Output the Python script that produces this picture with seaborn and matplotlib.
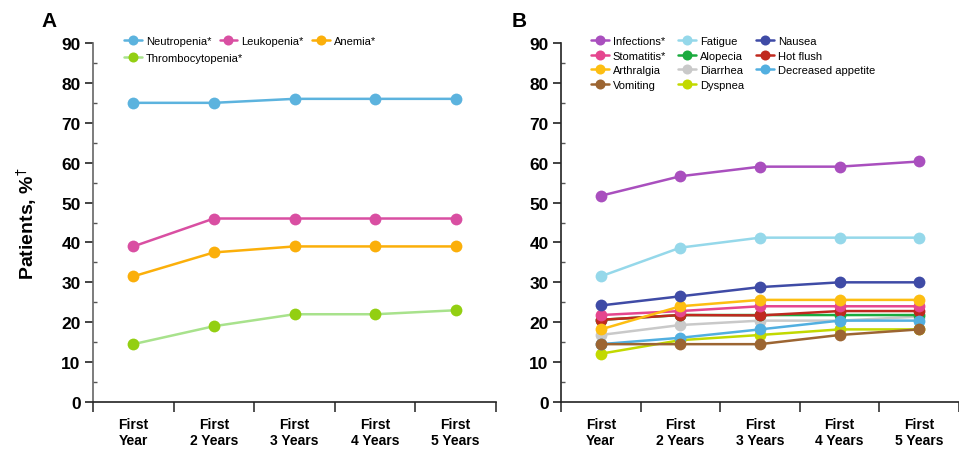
import numpy as np
import pandas as pd
import matplotlib.pyplot as plt
import seaborn as sns

# x categories
periods = ['First\nYear', 'First\n2 Years', 'First\n3 Years', 'First\n4 Years', 'First\n5 Years']
steps = np.arange(len(periods))
yticks = [0, 10, 20, 30, 40, 50, 60, 70, 80, 90]

# panel A - haematological AEs (%)
neutropenia = [75, 75, 76, 76, 76]
leukopenia = [39, 46, 46, 46, 46]
anemia = [31.5, 37.5, 39, 39, 39]
thrombocytopenia = [14.5, 19, 22, 22, 23]

# panel B - non-haematological AEs (%)
infections = [51.7, 56.6, 59, 59, 60.3]
fatigue = [31.5, 38.7, 41.2, 41.2, 41.2]
nausea = [24.2, 26.5, 28.8, 30, 30]
stomatitis = [21.8, 22.8, 24, 24, 24]
alopecia = [20.6, 21.8, 21.8, 21.8, 21.8]
hot_flush = [20.6, 21.8, 21.7, 22.8, 22.8]
arthralgia = [18.2, 24, 25.6, 25.6, 25.6]
diarrhea = [16.8, 19.3, 20.4, 20.4, 21.4]
decreased_appetite = [14.5, 16.1, 18.2, 20.4, 20.4]
vomiting = [14.5, 14.5, 14.5, 16.8, 18.2]
dyspnea = [12.1, 15.5, 16.8, 18.2, 18.2]

panel_a = {
    'Neutropenia*': neutropenia,
    'Leukopenia*': leukopenia,
    'Anemia*': anemia,
    'Thrombocytopenia*': thrombocytopenia,
}
# drawing order (back to front)
panel_b = {
    'Diarrhea': diarrhea,
    'Alopecia': alopecia,
    'Hot flush': hot_flush,
    'Dyspnea': dyspnea,
    'Decreased appetite': decreased_appetite,
    'Vomiting': vomiting,
    'Stomatitis*': stomatitis,
    'Arthralgia': arthralgia,
    'Nausea': nausea,
    'Fatigue': fatigue,
    'Infections*': infections,
}

# (line colour, marker colour)
colors_a = {
    'Neutropenia*': ('#5cb3de', '#5cb3de'),
    'Leukopenia*': ('#d94fa2', '#d94fa2'),
    'Anemia*': ('#fbaf0a', '#fbaf0a'),
    'Thrombocytopenia*': ('#a8e28c', '#93cf12'),
}
colors_b = {
    'Infections*': '#a94fbe',
    'Fatigue': '#95d8ea',
    'Nausea': '#3f4ba6',
    'Stomatitis*': '#e5468f',
    'Alopecia': '#1aab3e',
    'Hot flush': '#c0291f',
    'Arthralgia': '#fdbe12',
    'Diarrhea': '#c9c9c9',
    'Decreased appetite': '#52afe0',
    'Vomiting': '#9c6532',
    'Dyspnea': '#c2d900',
}

legend_row1_a = ['Neutropenia*', 'Leukopenia*', 'Anemia*']
legend_row2_a = ['Thrombocytopenia*']
legend_order_b = ['Infections*', 'Stomatitis*', 'Arthralgia', 'Vomiting',
                  'Fatigue', 'Alopecia', 'Diarrhea', 'Dyspnea',
                  'Nausea', 'Hot flush', 'Decreased appetite']

sns.set_style('ticks')
plt.rcParams['font.family'] = ['Liberation Sans', 'DejaVu Sans']
plt.rcParams['text.color'] = 'black'
plt.rcParams['axes.labelcolor'] = 'black'
plt.rcParams['xtick.color'] = 'black'
plt.rcParams['ytick.color'] = 'black'

fig = plt.figure(figsize=(9.59, 4.56), dpi=100)
W, H = 959, 456
ax_a = fig.add_axes([93 / W, 53 / H, 403 / W, 359 / H])
ax_b = fig.add_axes([561 / W, 53 / H, 398 / W, 359 / H])


def draw_series(ax, name, vals, lc, mc):
    df = pd.DataFrame({'step': steps, 'pct': vals})
    sns.lineplot(data=df, x='step', y='pct', ax=ax, color=lc, marker='o',
                 markersize=8.5, markerfacecolor=mc, markeredgecolor=mc,
                 markeredgewidth=0, linewidth=1.8, label=name, clip_on=False)


for name, vals in panel_a.items():
    lc, mc = colors_a[name]
    draw_series(ax_a, name, vals, lc, mc)

for name, vals in panel_b.items():
    c = colors_b[name]
    draw_series(ax_b, name, vals, c, c)


def style_axis(ax, xmax, spine_col):
    ax.set_xlim(-0.5, xmax)
    ax.set_ylim(0, 90)
    ax.set_yticks(yticks)
    ax.set_yticklabels([str(t) for t in yticks], fontsize=12.5, fontweight='bold')
    ax.set_yticks(np.arange(5, 90, 10), minor=True)
    ax.set_xticks(np.arange(-0.5, 5, 1))
    ax.set_xticklabels([])
    ax.set_xticks(steps, minor=True)
    ax.set_xticklabels(periods, minor=True, fontsize=10, fontweight='bold',
                       linespacing=1.15)
    ax.tick_params(axis='x', which='major', length=7, width=1.2, direction='out',
                   color='#333333')
    ax.tick_params(axis='x', which='minor', length=0, pad=11)
    ax.tick_params(axis='y', which='major', length=6, width=1.2, color='#222222', pad=3)
    ax.tick_params(axis='y', which='minor', length=3, width=1.0, color='#555555',
                   direction='in')
    ax.set_xlabel('')
    ax.set_ylabel('')
    for s in ['top', 'right']:
        ax.spines[s].set_visible(False)
    ax.spines['left'].set_color(spine_col)
    ax.spines['bottom'].set_color('#222222')
    for s in ['left', 'bottom']:
        ax.spines[s].set_linewidth(1.2)


style_axis(ax_a, 4.5, '#666666')
style_axis(ax_b, 4.43, '#222222')

ax_a.set_ylabel('Patients, %$^{\\dagger}$', fontsize=14, fontweight='bold', labelpad=16)

leg_kw = dict(loc='upper left', bbox_transform=fig.transFigure, frameon=False,
              fontsize=8, handlelength=1.6, handletextpad=0.35,
              labelspacing=0.42, borderaxespad=0, borderpad=0, markerscale=0.85)


def lookup(ax):
    handles, labels = ax.get_legend_handles_labels()
    return dict(zip(labels, handles))


hA = lookup(ax_a)
leg1 = ax_a.legend([hA[n] for n in legend_row1_a], legend_row1_a, ncol=3,
                   bbox_to_anchor=(124 / W, 1 - 37 / H), columnspacing=0.75, **leg_kw)
ax_a.add_artist(leg1)
ax_a.legend([hA[n] for n in legend_row2_a], legend_row2_a, ncol=1,
            bbox_to_anchor=(124 / W, 1 - 54 / H), **leg_kw)

hB = lookup(ax_b)
ax_b.legend([hB[n] for n in legend_order_b], legend_order_b, ncol=3,
            bbox_to_anchor=(591 / W, 1 - 37 / H), columnspacing=1.1, **leg_kw)

fig.text(41 / W, 1 - 27 / H, 'A', fontsize=15, fontweight='bold')
fig.text(512 / W, 1 - 27 / H, 'B', fontsize=15, fontweight='bold')

fig.savefig('out.png', dpi=100)
